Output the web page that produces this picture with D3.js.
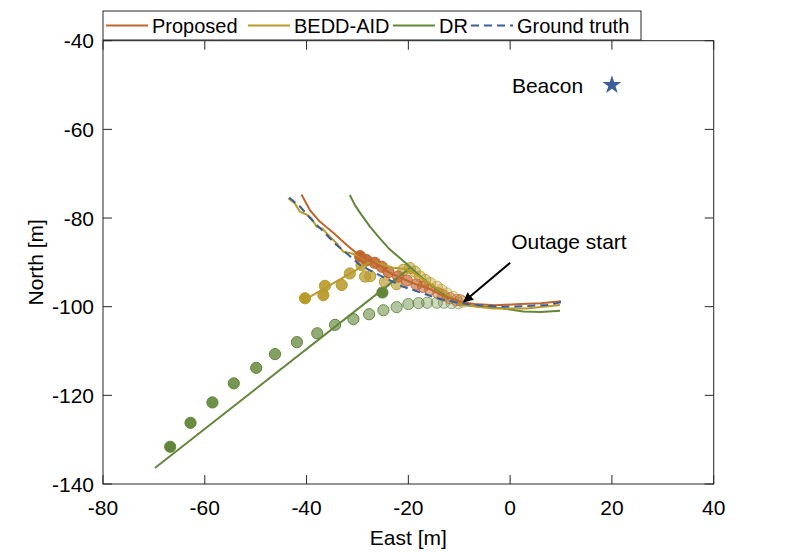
<!DOCTYPE html>
<html>
<head>
<meta charset="utf-8">
<title>Outage trajectories</title>
<script src="https://cdn.jsdelivr.net/npm/d3@7/dist/d3.min.js"></script>
<style>
  body { margin: 0; background: #fff; }
  svg text { font-family: "Liberation Sans", Arial, sans-serif; fill: #000; }
</style>
</head>
<body>
<div id="chart"></div>
<script>
// ---- data (East [m], North [m]) ----
var gtEast  = [10, 7.2, 3, -1.3, -5, -8.5, -11.2, -14.4, -17.1, -21.0, -25, -29.5, -31.8, -34.1, -36.4, -39.0, -41.3, -43.6];
var gtNorth = [-99.0, -99.6, -99.9, -100.0, -99.8, -99.4, -98.9, -98.1, -97.0, -95.5, -93.3, -90.6, -88.3, -86.1, -83.4, -80.4, -77.4, -75.2];

var propEast  = [10, 6, 2, -3, -7, -9.5, -10.5, -11.8, -13.1, -14.1, -15.7, -17.1, -18.4, -20.3, -22.0, -23.9, -25.2, -26.6, -28.2, -29.8, -32.1, -34.7, -37.4, -39.3, -41.0];
var propNorth = [-98.8, -99.2, -99.4, -99.7, -99.4, -99.0, -98.5, -98.1, -97.5, -97.0, -96.1, -95.5, -95.0, -94.1, -93.2, -92.2, -91.0, -90.1, -89.5, -88.3, -86.1, -83.4, -80.8, -78.3, -74.7];

var beddEast  = [9.8, 6.5, 3.2, -3.3, -6.5, -9.2, -10.5, -12.5, -14.4, -16.7, -18.7, -20.5, -23, -26, -28.5, -29.5, -31.1, -32.8, -33.8, -35.4, -37.0, -38.0, -39.0, -40.0, -41.3, -42.3, -43.6];
var beddNorth = [-99.6, -100.0, -100.4, -100.4, -100.0, -99.6, -98.7, -97.2, -95.8, -94.2, -92.5, -91.5, -91.2, -90.2, -89.5, -88.7, -88.0, -87.6, -86.1, -84.2, -82.3, -82.0, -80.1, -79.2, -78.6, -76.7, -75.55];

var drEast  = [9.8, 6, 2.6, -1.3, -5, -9.2, -10.5, -12.5, -15, -17.5, -19.7, -21.6, -23.9, -25.9, -27.5, -29.2, -30.5, -31.5];
var drNorth = [-100.9, -101.2, -101.1, -100.4, -100.0, -99.6, -98.9, -97.6, -95.6, -93.3, -91.0, -89.1, -86.8, -84.2, -82.0, -79.3, -77.1, -74.8];

// straight outage segments
var beddSegEast  = [-40.3, -27.5];
var beddSegNorth = [-98.4, -89.9];
var drSegEast  = [-69.8, -19.7];
var drSegNorth = [-136.4, -91.3];

// circle markers, ordered from outage start outwards
var propDotEast  = [-9.8, -10.5, -11.8, -13.1, -14.1, -15.7, -17.1, -18.4, -20.3, -22.0, -23.9, -25.2, -26.6, -28.2, -29.5];
var propDotNorth = [-98.6, -98.5, -98.1, -97.5, -97.0, -96.1, -95.5, -95.0, -94.1, -93.2, -92.2, -91.0, -90.1, -89.5, -88.6];

var beddDotEast  = [-9.3, -9.8, -11.2, -12.5, -13.5, -14.4, -15.7, -16.7, -17.7, -18.7, -19.7, -21.0, -22.3, -24.6, -27.5, -28.5, -29.2, -31.5, -33.1, -36.4, -36.7, -40.3];
var beddDotNorth = [-98.9, -98.5, -97.8, -97.0, -96.2, -95.5, -94.7, -94.0, -93.2, -92.1, -91.3, -91.7, -94.9, -94.4, -93.1, -93.2, -90.6, -92.5, -95.1, -95.3, -97.4, -98.1];

var drDotEast  = [-10.2, -11.5, -13.0, -14.4, -16.3, -18.0, -20.0, -22.3, -24.9, -27.7, -30.8, -34.4, -37.9, -41.9, -46.2, -49.9, -54.3, -58.5, -62.8, -66.8];
var drDotNorth = [-99.2, -99.2, -99.1, -99.1, -99.1, -99.2, -99.4, -100.1, -100.8, -101.7, -102.8, -104.1, -106.0, -108.0, -110.7, -113.8, -117.3, -121.6, -126.2, -131.6];
var drMarkEast = [-25.1], drMarkNorth = [-96.8];

var beaconEast = 20, beaconNorth = -50;
var outageFrom = [0.0, -90.1], outageTo = [-9.1, -98.9];

var xTicks = [-80, -60, -40, -20, 0, 20, 40];
var yTicks = [-140, -120, -100, -80, -60, -40];
var legendNames = ["Proposed", "BEDD-AID", "DR", "Ground truth"];

// ---- styling ----
var C = { prop: "#c0652e", bedd: "#b99b2c", dr: "#62873a", gt: "#3d5f99", axis: "#262626" };

var W = 789, H = 552;
var pL = 103, pR = 713.7, pT = 40.7, pB = 484;

var svg = d3.select("#chart").append("svg").attr("width", W).attr("height", H);

var x = d3.scaleLinear().domain([-80, 40]).range([pL, pR]);
var y = d3.scaleLinear().domain([-140, -40]).range([pB, pT]);

function pts(ex, no) { return ex.map(function (e, i) { return [e, no[i]]; }); }
var line = d3.line().x(function (d) { return x(d[0]); }).y(function (d) { return y(d[1]); });

svg.append("clipPath").attr("id", "clip").append("rect")
  .attr("x", pL).attr("y", pT).attr("width", pR - pL).attr("height", pB - pT);
var plot = svg.append("g").attr("clip-path", "url(#clip)");

// circles (fade towards the outage start)
function dots(ex, no, col, a0, a1) {
  var n = ex.length;
  var alpha = d3.scaleLinear().domain([0, Math.max(1, n - 1)]).range([a0, a1]);
  plot.append("g").selectAll("circle").data(pts(ex, no)).enter().append("circle")
    .attr("cx", function (d) { return x(d[0]); })
    .attr("cy", function (d) { return y(d[1]); })
    .attr("r", 5.6)
    .attr("fill", col)
    .attr("fill-opacity", function (d, i) { return alpha(i); })
    .attr("stroke", col)
    .attr("stroke-width", 1)
    .attr("stroke-opacity", function (d, i) { return Math.min(1, alpha(i) + 0.4); });
}
dots(drDotEast, drDotNorth, C.dr, 0.18, 1);
dots(drMarkEast, drMarkNorth, C.dr, 1, 1);
dots(beddDotEast, beddDotNorth, C.bedd, 0.12, 1);
dots(propDotEast, propDotNorth, C.prop, 0.2, 1);

// lines
function path(ex, no, col, dash) {
  plot.append("path").datum(pts(ex, no)).attr("d", line.curve(d3.curveLinear))
    .attr("fill", "none").attr("stroke", col).attr("stroke-width", 2)
    .attr("stroke-linejoin", "round")
    .attr("stroke-dasharray", dash || null);
}
path(drSegEast, drSegNorth, C.dr);
path(beddSegEast, beddSegNorth, C.bedd);
path(drEast, drNorth, C.dr);
path(beddEast, beddNorth, C.bedd);
path(propEast, propNorth, C.prop);
path(gtEast, gtNorth, C.gt, "8,5");

// beacon
svg.append("path")
  .attr("d", d3.symbol().type(d3.symbolStar).size(110)())
  .attr("transform", "translate(" + x(beaconEast) + "," + y(beaconNorth) + ")")
  .attr("fill", C.gt);
svg.append("text").attr("x", x(beaconEast) - 100).attr("y", y(beaconNorth) + 8)
  .attr("font-size", 21).text("Beacon");

// outage annotation
svg.append("defs").append("marker").attr("id", "ah")
  .attr("viewBox", "0 0 10 10").attr("refX", 9).attr("refY", 5)
  .attr("markerWidth", 5).attr("markerHeight", 5).attr("orient", "auto")
  .append("path").attr("d", "M0,0 L10,5 L0,10 z").attr("fill", "#000");
svg.append("line")
  .attr("x1", x(outageFrom[0])).attr("y1", y(outageFrom[1]))
  .attr("x2", x(outageTo[0])).attr("y2", y(outageTo[1]))
  .attr("stroke", "#000").attr("stroke-width", 2).attr("marker-end", "url(#ah)");
svg.append("text").attr("x", x(outageFrom[0]) + 1).attr("y", y(outageFrom[1]) - 14)
  .attr("font-size", 21).text("Outage start");

// axes box + ticks (inside, all four sides)
var ax = svg.append("g").attr("stroke", C.axis).attr("stroke-width", 1).attr("fill", "none");
ax.append("rect").attr("x", pL).attr("y", pT).attr("width", pR - pL).attr("height", pB - pT);
var tl = 9;
xTicks.forEach(function (t) {
  ax.append("line").attr("x1", x(t)).attr("x2", x(t)).attr("y1", pB).attr("y2", pB - tl);
  ax.append("line").attr("x1", x(t)).attr("x2", x(t)).attr("y1", pT).attr("y2", pT + tl);
});
yTicks.forEach(function (t) {
  ax.append("line").attr("y1", y(t)).attr("y2", y(t)).attr("x1", pL).attr("x2", pL + tl);
  ax.append("line").attr("y1", y(t)).attr("y2", y(t)).attr("x1", pR).attr("x2", pR - tl);
});
svg.append("g").selectAll("text").data(xTicks).enter().append("text")
  .attr("x", function (d) { return x(d); }).attr("y", pB + 31)
  .attr("text-anchor", "middle").attr("font-size", 21).text(function (d) { return d; });
svg.append("g").selectAll("text").data(yTicks).enter().append("text")
  .attr("x", pL - 9).attr("y", function (d) { return y(d) + 7.5; })
  .attr("text-anchor", "end").attr("font-size", 21).text(function (d) { return d; });

svg.append("text").attr("x", (pL + pR) / 2).attr("y", pB + 61)
  .attr("text-anchor", "middle").attr("font-size", 21).text("East [m]");
svg.append("text").attr("transform", "translate(43," + ((pT + pB) / 2) + ") rotate(-90)")
  .attr("text-anchor", "middle").attr("font-size", 21).text("North [m]");

// legend
var lg = svg.append("g");
lg.append("rect").attr("x", pL).attr("y", 11).attr("width", 538).attr("height", 29)
  .attr("fill", "#fff").attr("stroke", C.axis).attr("stroke-width", 1);
var lgCols = [C.prop, C.bedd, C.dr, C.gt];
var lgLineX = [106, 248, 393, 471];
var lgDash = [null, null, null, "8,5"];
legendNames.forEach(function (name, i) {
  lg.append("line").attr("x1", lgLineX[i]).attr("x2", lgLineX[i] + 42)
    .attr("y1", 25.5).attr("y2", 25.5)
    .attr("stroke", lgCols[i]).attr("stroke-width", 2).attr("stroke-dasharray", lgDash[i]);
  lg.append("text").attr("x", lgLineX[i] + 46).attr("y", 33)
    .attr("font-size", 20).text(name);
});
</script>
</body>
</html>
